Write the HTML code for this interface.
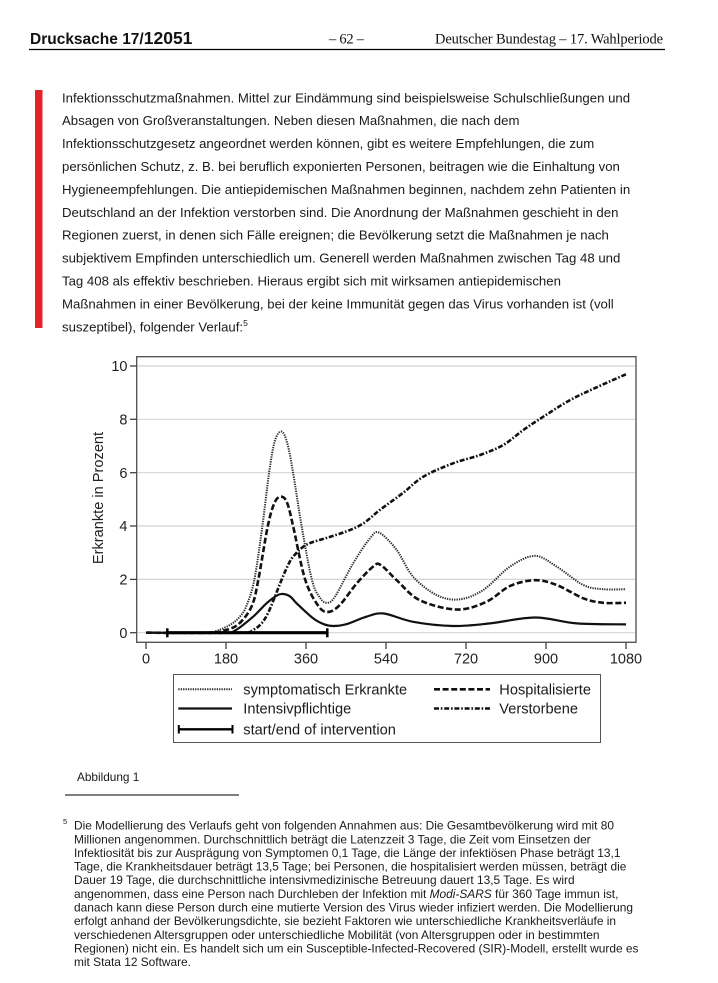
<!DOCTYPE html>
<html><head><meta charset="utf-8"><style>
html,body{margin:0;padding:0;background:#fff;}
svg{display:block;}
text{font-family:"Liberation Sans",Arial,sans-serif;}
.serif{font-family:"Liberation Serif","Times New Roman",serif;}
</style></head><body>
<svg width="718" height="983" viewBox="0 0 718 983" xmlns="http://www.w3.org/2000/svg">
<rect width="718" height="983" fill="#fff"/>

<!-- Header -->
<text x="30" y="44" font-weight="bold" font-size="15.5" fill="#111">Drucksache 17/<tspan font-size="17.5">12051</tspan></text>
<text class="serif" x="329" y="43.5" font-size="14.5" textLength="35" fill="#111">– 62 –</text>
<text class="serif" x="435" y="43.5" font-size="14.5" textLength="228" fill="#111">Deutscher Bundestag – 17. Wahlperiode</text>
<line x1="29" y1="49.5" x2="665" y2="49.5" stroke="#000" stroke-width="1.3"/>

<!-- Red change bar -->
<rect x="35" y="90" width="7.5" height="238" fill="#e3222b"/>

<!-- Body text -->
<g font-size="13.2" fill="#1a1a1a">
<text x="62" y="102.3">Infektionsschutzmaßnahmen. Mittel zur Eindämmung sind beispielsweise Schulschließungen und</text>
<text x="62" y="125.2">Absagen von Großveranstaltungen. Neben diesen Maßnahmen, die nach dem</text>
<text x="62" y="148.1">Infektionsschutzgesetz angeordnet werden können, gibt es weitere Empfehlungen, die zum</text>
<text x="62" y="171.0">persönlichen Schutz, z. B. bei beruflich exponierten Personen, beitragen wie die Einhaltung von</text>
<text x="62" y="193.9">Hygieneempfehlungen. Die antiepidemischen Maßnahmen beginnen, nachdem zehn Patienten in</text>
<text x="62" y="216.8">Deutschland an der Infektion verstorben sind. Die Anordnung der Maßnahmen geschieht in den</text>
<text x="62" y="239.7">Regionen zuerst, in denen sich Fälle ereignen; die Bevölkerung setzt die Maßnahmen je nach</text>
<text x="62" y="262.6">subjektivem Empfinden unterschiedlich um. Generell werden Maßnahmen zwischen Tag 48 und</text>
<text x="62" y="285.5">Tag 408 als effektiv beschrieben. Hieraus ergibt sich mit wirksamen antiepidemischen</text>
<text x="62" y="308.4">Maßnahmen in einer Bevölkerung, bei der keine Immunität gegen das Virus vorhanden ist (voll</text>
<text x="62" y="331.3">suszeptibel), folgender Verlauf:<tspan font-size="8.5" dy="-5.5">5</tspan></text>
</g>

<!-- Chart: gridlines -->
<g stroke="#d4d4d4" stroke-width="1.2">
<line x1="137.4" y1="632.7" x2="635.3" y2="632.7"/>
<line x1="137.4" y1="579.4" x2="635.3" y2="579.4"/>
<line x1="137.4" y1="526.0" x2="635.3" y2="526.0"/>
<line x1="137.4" y1="472.7" x2="635.3" y2="472.7"/>
<line x1="137.4" y1="419.3" x2="635.3" y2="419.3"/>
<line x1="137.4" y1="366.0" x2="635.3" y2="366.0"/>
</g>

<!-- Frame -->
<rect x="136.7" y="356.7" width="499.3" height="285.6" fill="none" stroke="#4d4d4d" stroke-width="1.3"/>

<!-- Y ticks -->
<g stroke="#444" stroke-width="1.3">
<line x1="130" y1="632.7" x2="136.7" y2="632.7"/>
<line x1="130" y1="579.4" x2="136.7" y2="579.4"/>
<line x1="130" y1="526.0" x2="136.7" y2="526.0"/>
<line x1="130" y1="472.7" x2="136.7" y2="472.7"/>
<line x1="130" y1="419.3" x2="136.7" y2="419.3"/>
<line x1="130" y1="366.0" x2="136.7" y2="366.0"/>
</g>
<g font-size="14.5" fill="#222" text-anchor="end">
<text x="127.5" y="637.8">0</text>
<text x="127.5" y="584.5">2</text>
<text x="127.5" y="531.1">4</text>
<text x="127.5" y="477.8">6</text>
<text x="127.5" y="424.4">8</text>
<text x="127.5" y="371.1">10</text>
</g>

<!-- X ticks -->
<g stroke="#444" stroke-width="1.3">
<line x1="146" y1="642.3" x2="146" y2="649"/>
<line x1="226" y1="642.3" x2="226" y2="649"/>
<line x1="306" y1="642.3" x2="306" y2="649"/>
<line x1="386" y1="642.3" x2="386" y2="649"/>
<line x1="466" y1="642.3" x2="466" y2="649"/>
<line x1="546" y1="642.3" x2="546" y2="649"/>
<line x1="626" y1="642.3" x2="626" y2="649"/>
</g>
<g font-size="14.5" fill="#222" text-anchor="middle">
<text x="146" y="663.3">0</text>
<text x="226" y="663.3">180</text>
<text x="306" y="663.3">360</text>
<text x="386" y="663.3">540</text>
<text x="466" y="663.3">720</text>
<text x="546" y="663.3">900</text>
<text x="626" y="663.3">1080</text>
</g>

<!-- Y axis title -->
<text transform="translate(103.2,498) rotate(-90)" font-size="14.6" fill="#222" text-anchor="middle">Erkrankte in Prozent</text>

<!-- Curves -->
<g fill="none" stroke-linejoin="round">
<!-- symptomatisch Erkrankte (dotted) -->
<polyline class="s" stroke="#2a2a2a" stroke-width="2" stroke-dasharray="1.3 1.1" points="146,632.7 203.8,632.7 217.1,630.6 230.4,624.7 239.8,616.7 246.4,606.0 254.4,579.4 262.4,526.0 269.1,472.7 274.9,440.7 281.6,431.6 287.3,443.4 293.1,472.7 301.6,526.0 311.8,579.4 319.3,596.7 326.4,602.8 334.9,596.7 353.1,563.4 370.0,538.3 379.3,532.7 396.7,550.0 413.1,576.7 436.7,595.1 459.3,599.4 483.3,590.0 510.0,566.6 534.9,555.9 556.7,566.6 583.3,585.0 603.3,589.2 626.0,589.2"/>
<!-- Hospitalisierte (dashed) -->
<polyline class="s" stroke="#111" stroke-width="2.6" stroke-dasharray="6 2.6" points="146,632.7 208.2,632.7 226.0,630.0 239.3,623.4 251.8,606.0 258.4,579.4 267.8,526.0 274.9,502.0 281.6,496.7 287.3,503.3 293.1,526.0 305.1,579.4 318.4,606.0 328.2,611.9 339.8,605.0 356.7,583.4 373.1,566.6 380.7,565.0 396.7,580.2 419.8,600.2 456.7,609.5 486.4,601.8 510.0,586.0 534.9,580.2 556.7,585.0 583.3,598.3 603.3,602.8 626.0,602.8"/>
<!-- Intensivpflichtige (solid) -->
<polyline class="s" stroke="#111" stroke-width="2.2" points="146,632.7 221.6,632.7 234.9,630.6 253.1,616.7 266.4,603.4 277.1,595.4 283.3,594.0 290.4,596.7 296.7,603.4 313.1,618.3 323.8,624.2 333.1,626.0 346.4,624.2 366.4,616.7 383.8,613.5 413.1,621.8 453.1,626.0 490.0,623.4 534.9,617.5 576.7,623.4 626.0,624.4"/>
<!-- Verstorbene (dash-dot) -->
<polyline class="s" stroke="#111" stroke-width="2.6" stroke-dasharray="5 1.8 1.6 1.8" points="146,632.7 239.3,632.7 252.7,630.0 261.6,623.4 268.2,612.7 274.9,596.7 280.7,582.0 286.4,568.7 293.1,556.7 306.4,544.7 326.4,538.0 346.4,531.4 363.3,523.4 379.8,510.0 403.3,492.7 423.3,476.7 453.1,463.3 479.8,455.1 503.3,445.0 523.3,430.0 543.3,416.7 570.0,400.1 596.7,387.3 626.0,374.3"/>
</g>

<!-- Intervention bar -->
<g stroke="#000">
<line x1="167.3" y1="632.7" x2="327.3" y2="632.7" stroke-width="3.2"/>
<line x1="167.3" y1="628.3" x2="167.3" y2="637.3" stroke-width="2.5"/>
<line x1="327.3" y1="628.3" x2="327.3" y2="637.3" stroke-width="2.5"/>
</g>

<!-- Legend -->
<rect x="173.5" y="674.5" width="427" height="68" fill="#fff" stroke="#555" stroke-width="1"/>
<g fill="none">
<line x1="178.3" y1="689.3" x2="232" y2="689.3" stroke="#2a2a2a" stroke-width="2" stroke-dasharray="1.3 1.1"/>
<line x1="434" y1="689.3" x2="490" y2="689.3" stroke="#111" stroke-width="2.6" stroke-dasharray="6 2.6"/>
<line x1="178.3" y1="708.5" x2="232" y2="708.5" stroke="#111" stroke-width="2.2"/>
<line x1="434" y1="708.5" x2="490" y2="708.5" stroke="#111" stroke-width="2.6" stroke-dasharray="5 1.8 1.6 1.8"/>
<line x1="178.3" y1="729.3" x2="233" y2="729.3" stroke="#000" stroke-width="2.4"/>
<line x1="178.8" y1="725" x2="178.8" y2="733.5" stroke="#000" stroke-width="2"/>
<line x1="232.5" y1="725" x2="232.5" y2="733.5" stroke="#000" stroke-width="2"/>
</g>
<g font-size="14.6" fill="#1a1a1a">
<text x="243.3" y="694.4">symptomatisch Erkrankte</text>
<text x="499.3" y="694.4">Hospitalisierte</text>
<text x="243.3" y="713.6">Intensivpflichtige</text>
<text x="499.3" y="713.6">Verstorbene</text>
<text x="243.3" y="734.4">start/end of intervention</text>
</g>

<!-- Caption -->
<text x="77" y="781" font-size="11.8" fill="#1a1a1a">Abbildung 1</text>
<line x1="65" y1="795" x2="239" y2="795" stroke="#000" stroke-width="1"/>

<!-- Footnote -->
<g font-size="11.9" fill="#1a1a1a">
<text x="63" y="824" font-size="7.5">5</text>
<text x="74" y="829.6">Die Modellierung des Verlaufs geht von folgenden Annahmen aus: Die Gesamtbevölkerung wird mit 80</text>
<text x="74" y="843.25">Millionen angenommen. Durchschnittlich beträgt die Latenzzeit 3 Tage, die Zeit vom Einsetzen der</text>
<text x="74" y="856.9">Infektiosität bis zur Ausprägung von Symptomen 0,1 Tage, die Länge der infektiösen Phase beträgt 13,1</text>
<text x="74" y="870.55">Tage, die Krankheitsdauer beträgt 13,5 Tage; bei Personen, die hospitalisiert werden müssen, beträgt die</text>
<text x="74" y="884.2">Dauer 19 Tage, die durchschnittliche intensivmedizinische Betreuung dauert 13,5 Tage. Es wird</text>
<text x="74" y="897.85">angenommen, dass eine Person nach Durchleben der Infektion mit <tspan font-style="italic">Modi-SARS</tspan> für 360 Tage immun ist,</text>
<text x="74" y="911.5">danach kann diese Person durch eine mutierte Version des Virus wieder infiziert werden. Die Modellierung</text>
<text x="74" y="925.15">erfolgt anhand der Bevölkerungsdichte, sie bezieht Faktoren wie unterschiedliche Krankheitsverläufe in</text>
<text x="74" y="938.8">verschiedenen Altersgruppen oder unterschiedliche Mobilität (von Altersgruppen oder in bestimmten</text>
<text x="74" y="952.45">Regionen) nicht ein. Es handelt sich um ein Susceptible-Infected-Recovered (SIR)-Modell, erstellt wurde es</text>
<text x="74" y="966.1">mit Stata 12 Software.</text>
</g>
</svg>
<script>
(function(){
  var NS='http://www.w3.org/2000/svg';
  var pls=document.querySelectorAll('polyline.s');
  for(var k=0;k<pls.length;k++){
    var pl=pls[k];
    var pts=pl.getAttribute('points').trim().split(/\s+/).map(function(p){return p.split(',').map(Number);});
    var d='M'+pts[0][0]+','+pts[0][1];
    for(var i=0;i<pts.length-1;i++){
      var p0=pts[Math.max(i-1,0)],p1=pts[i],p2=pts[i+1],p3=pts[Math.min(i+2,pts.length-1)];
      var c1x=p1[0]+(p2[0]-p0[0])/6,c1y=p1[1]+(p2[1]-p0[1])/6;
      var c2x=p2[0]-(p3[0]-p1[0])/6,c2y=p2[1]-(p3[1]-p1[1])/6;
      d+=' C'+c1x.toFixed(2)+','+c1y.toFixed(2)+' '+c2x.toFixed(2)+','+c2y.toFixed(2)+' '+p2[0]+','+p2[1];
    }
    var path=document.createElementNS(NS,'path');
    for(var j=0;j<pl.attributes.length;j++){
      var a=pl.attributes[j];
      if(a.name!=='points'&&a.name!=='class')path.setAttribute(a.name,a.value);
    }
    path.setAttribute('d',d);
    path.setAttribute('fill','none');
    pl.parentNode.replaceChild(path,pl);
  }
})();
</script>
</body></html>
